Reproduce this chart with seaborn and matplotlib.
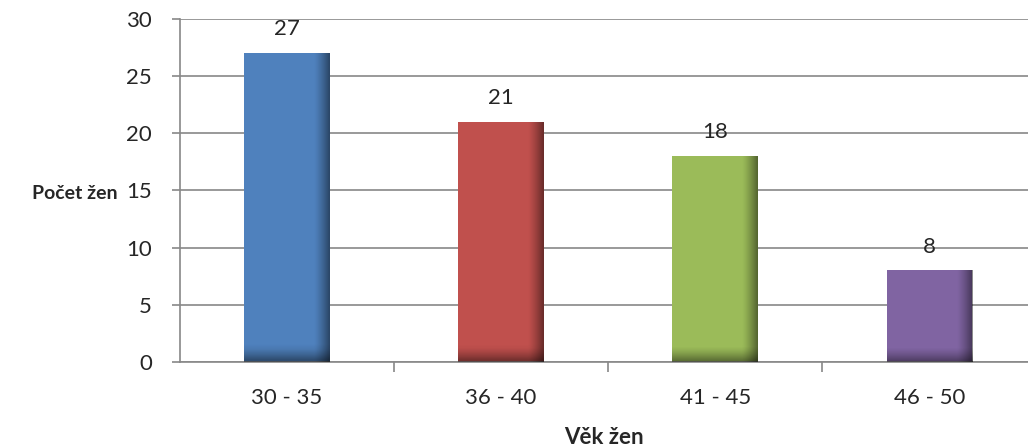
import numpy as np
import pandas as pd
import seaborn as sns
import matplotlib.pyplot as plt

# age groups and counts
vek = ['30 - 35', '36 - 40', '41 - 45', '46 - 50']
pocet = [27, 21, 18, 8]
barvy = ['#4F81BD', '#C0504D', '#9BBB59', '#8064A2']

df = pd.DataFrame({'Vek': vek, 'Pocet': pocet})

sns.set_style('white')
plt.rcParams['font.family'] = ['Lato', 'DejaVu Sans']

fig = plt.figure(figsize=(10.28, 4.48), dpi=100)
ax = fig.add_axes([0.175, 0.192, 0.825, 0.766])

sns.barplot(data=df, x='Vek', y='Pocet', hue='Vek', palette=barvy,
            width=0.4, legend=False, saturation=1, linewidth=0, ax=ax)

# darker shading towards right and bottom edge of each bar (Excel look)
nx, ny = 60, 60
for p in ax.patches:
    x0, y0 = p.get_x(), p.get_y()
    w, h = p.get_width(), p.get_height()
    hpx = h / 30 * 343
    xx = np.linspace(0, 1, nx)
    yy = np.linspace(0, 1, ny)
    shade_x = np.clip((xx - 0.82) / 0.18, 0, 1) ** 1.3 * 0.45
    bottom_px = yy * hpx
    shade_y = np.clip(1 - bottom_px / 14, 0, 1) ** 1.3 * 0.4
    a = 1 - (1 - shade_x[None, :]) * (1 - shade_y[:, None])
    img = np.zeros((ny, nx, 4))
    img[..., 3] = a
    im = ax.imshow(img, extent=(x0, x0 + w, y0, y0 + h), origin='lower',
                   aspect='auto', zorder=3, interpolation='bilinear')
    im.set_clip_path(p)

ax.set_xlim(-0.5, 3.46)
ax.set_ylim(0, 30)
ax.set_yticks(range(0, 31, 5))
ax.grid(axis='y', color='#888888', linewidth=1.2)
ax.set_axisbelow(True)

for s in ['top', 'right']:
    ax.spines[s].set_visible(False)
for s in ['left', 'bottom']:
    ax.spines[s].set_color('#888888')
    ax.spines[s].set_linewidth(1.2)

ax.tick_params(axis='y', which='major', length=6, width=1.2, color='#888888',
               labelsize=16, pad=14, left=True)
ax.set_xticks([0.5, 1.5, 2.5], minor=True)
ax.tick_params(axis='x', which='minor', length=7, width=1.2, color='#888888',
               direction='out', bottom=True)
ax.tick_params(axis='x', which='major', length=0, labelsize=16, pad=19)

for cont in ax.containers:
    ax.bar_label(cont, fontsize=16, padding=10)

ax.set_ylabel('Počet žen', rotation=0, fontsize=14, fontweight='bold',
              ha='right', va='center')
ax.yaxis.set_label_coords(-0.074, 0.49)
ax.set_xlabel('Věk žen', fontsize=16, fontweight='bold')
ax.xaxis.set_label_coords(0.5, -0.19)

fig.savefig('out.png', dpi=100)
